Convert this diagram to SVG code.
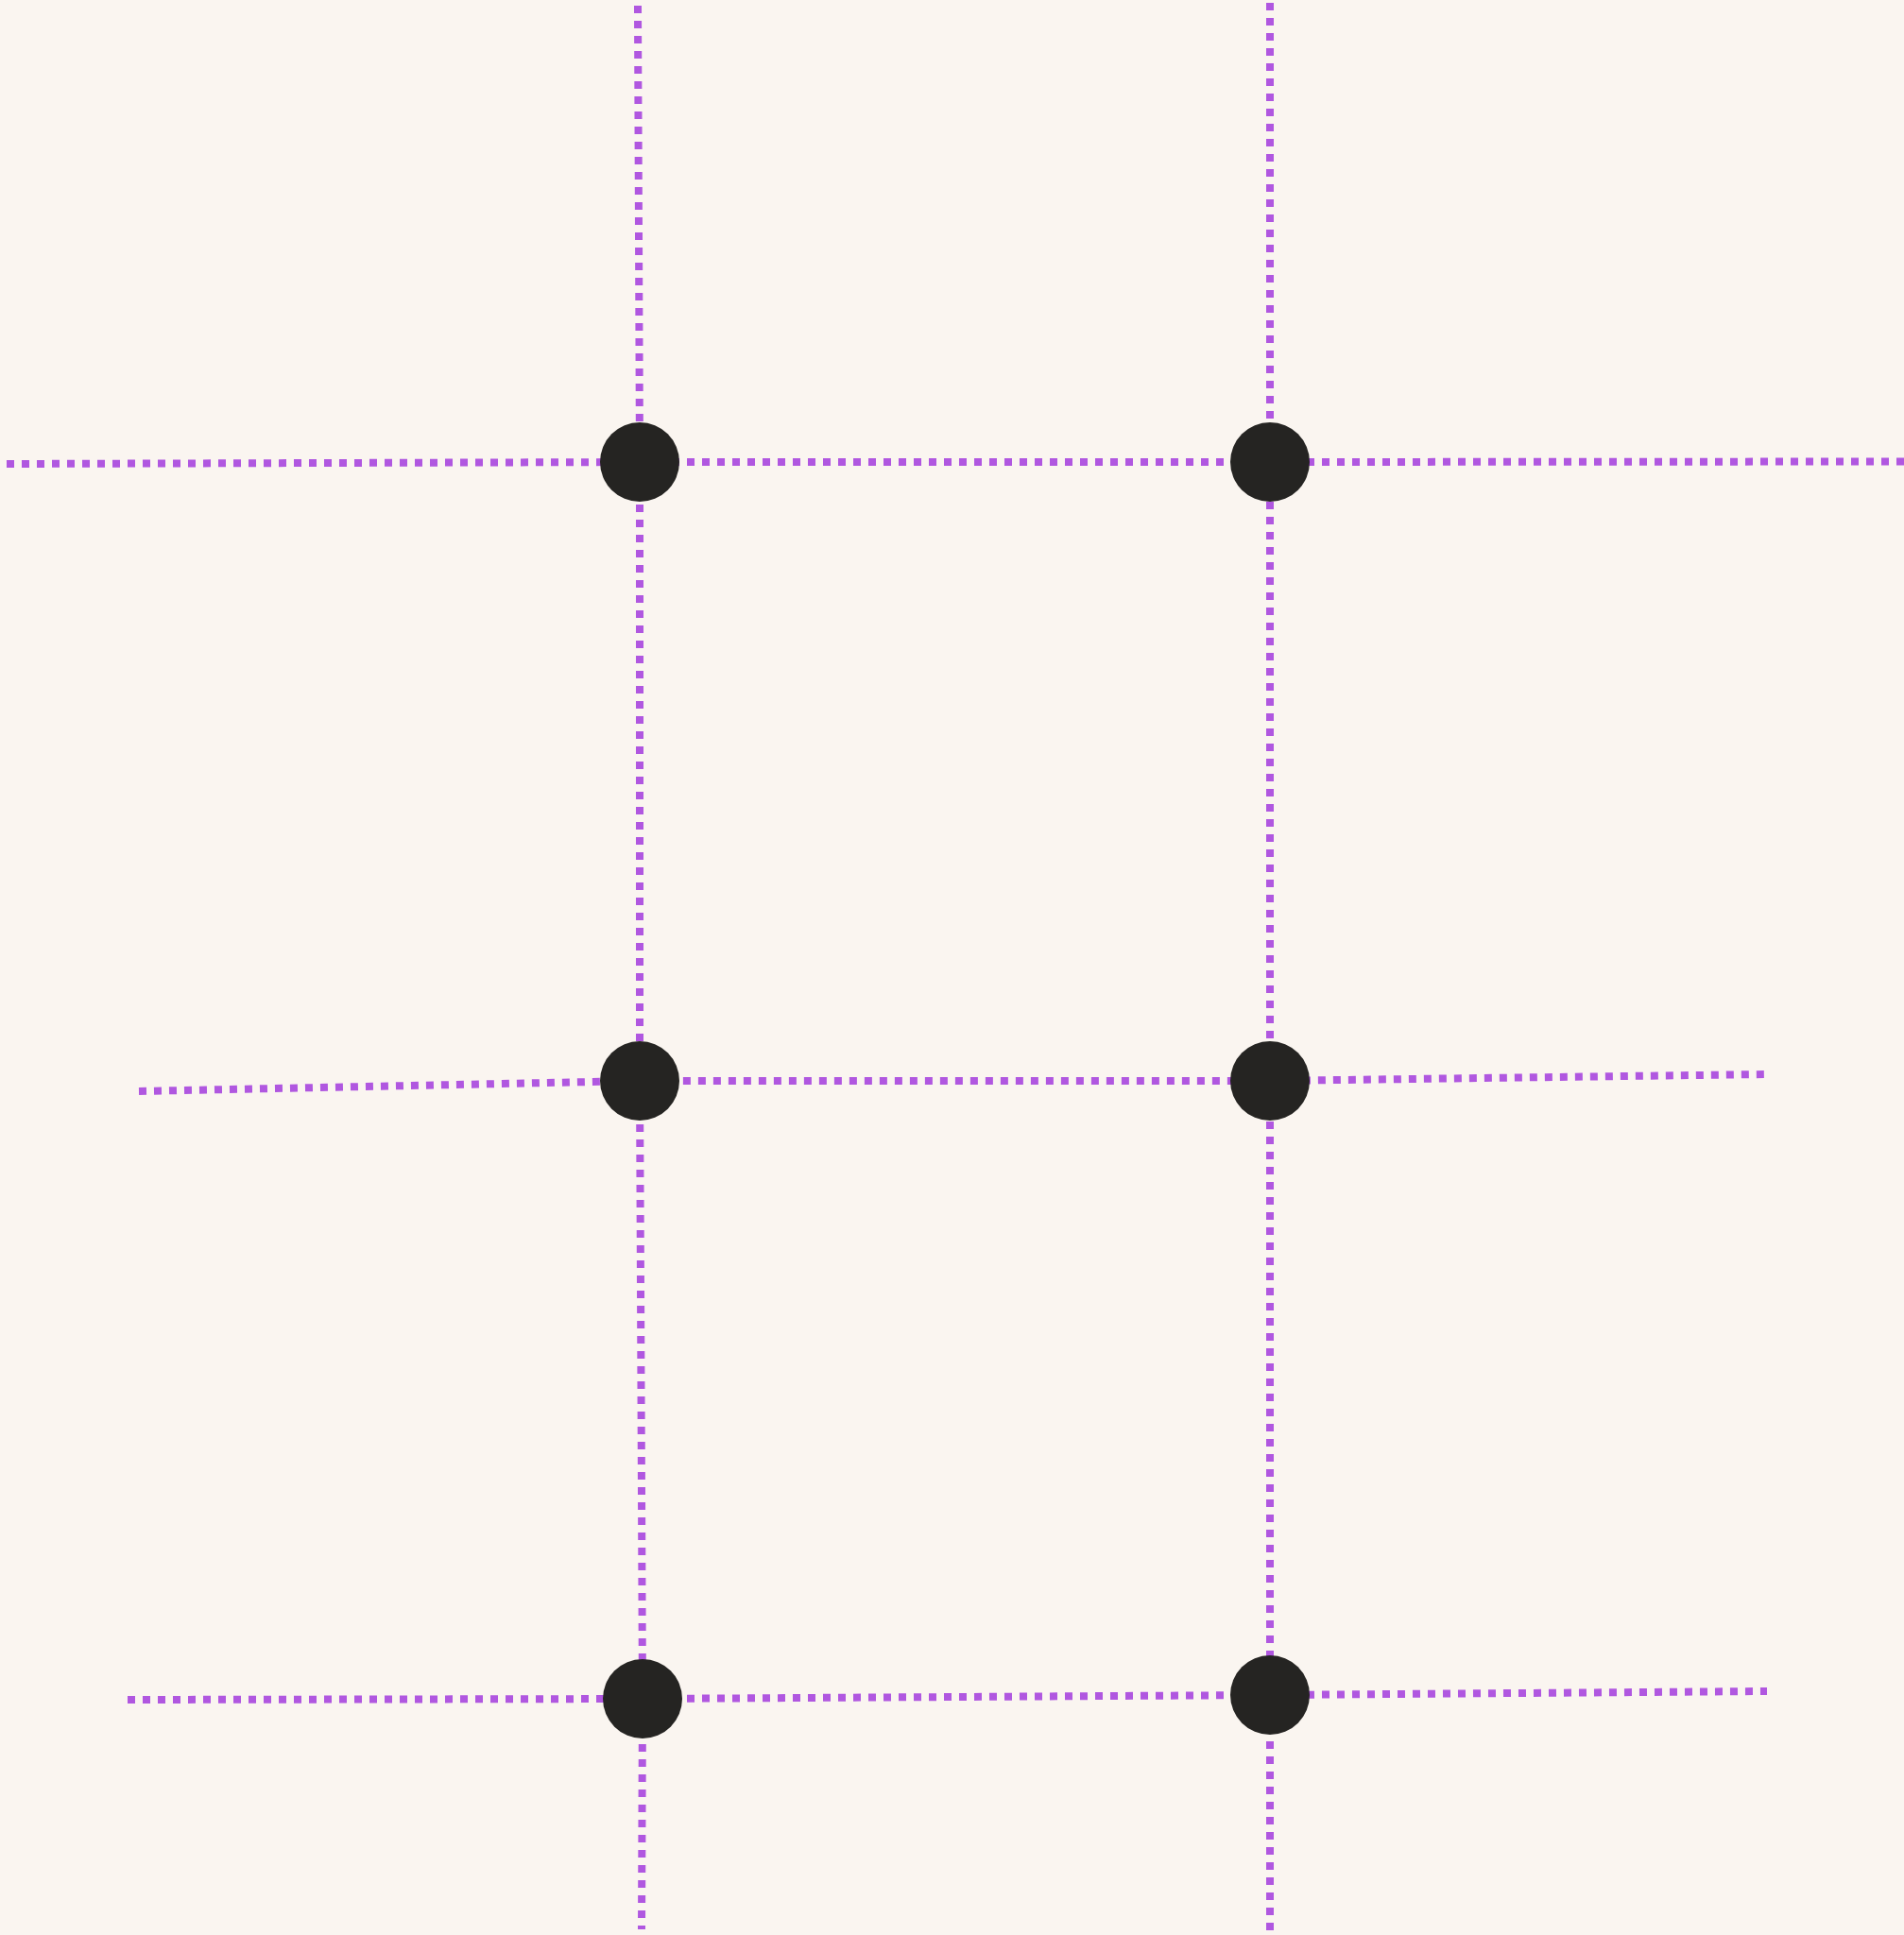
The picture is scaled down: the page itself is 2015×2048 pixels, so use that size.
<svg xmlns="http://www.w3.org/2000/svg" width="2015" height="2048" viewBox="0 0 2015 2048">
<style>
.c{fill:none;stroke:#b057e0;stroke-width:8;stroke-dasharray:8 8}
.n{fill:#252422}
</style>
<rect width="2015" height="2048" fill="#faf5f0"/>
<g id="connectors">
<polyline class="c" points="675,6 677,489 677,1144 680,1798 679,2042"/>
<polyline class="c" points="1344,3 1344,489 1344,1144 1344,1794 1344,2048"/>
<polyline class="c" points="7,491 677,489 1344,489 2015,488.5"/>
<polyline class="c" points="147,1155 677,1144 1344,1144 1870,1137"/>
<polyline class="c" points="135,1799 680,1798 1344,1794 1870,1790"/>
</g>
<g id="n1"><circle class="n" cx="677" cy="489" r="42"/></g>
<g id="n2"><circle class="n" cx="1344" cy="489" r="42"/></g>
<g id="n3"><circle class="n" cx="677" cy="1144" r="42"/></g>
<g id="n4"><circle class="n" cx="1344" cy="1144" r="42"/></g>
<g id="n5"><circle class="n" cx="680" cy="1798" r="42"/></g>
<g id="n6"><circle class="n" cx="1344" cy="1794" r="42"/></g>
</svg>
